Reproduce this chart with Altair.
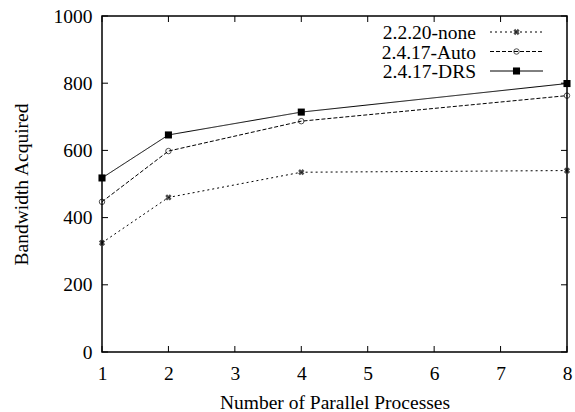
import altair as alt
import pandas as pd

processes = [1, 2, 4, 8]
series_names = ["2.2.20-none", "2.4.17-Auto", "2.4.17-DRS"]
bw_none = [325, 460, 535, 540]
bw_auto = [447, 598, 687, 763]
bw_drs = [518, 646, 714, 799]
x_ticks = [1, 2, 3, 4, 5, 6, 7, 8]
y_ticks = [0, 200, 400, 600, 800, 1000]

rows = []
for name, vals in zip(series_names, [bw_none, bw_auto, bw_drs]):
    for p, v in zip(processes, vals):
        rows.append({"series": name, "p": p, "bw": v})
df = pd.DataFrame(rows)

W, H = 465, 336
FONT = "Liberation Serif"
FS = 19.5
TFS = 19.5

dashes = {"2.2.20-none": [2, 3], "2.4.17-Auto": [4, 2], "2.4.17-DRS": [1, 0]}

xs = alt.Scale(domain=[1, 8], nice=False, zero=False)
ys = alt.Scale(domain=[0, 1000], nice=False)

xaxis = alt.Axis(values=x_ticks, format="d", ticks=False, domain=False, grid=False, labelFont=FONT,
                 labelFontSize=FS, labelColor="black", labelPadding=12, labelFlush=False,
                 title="Number of Parallel Processes",
                 titleFont=FONT, titleFontSize=TFS, titleFontWeight="normal", titleColor="black", titlePadding=11)
yaxis = alt.Axis(values=y_ticks, format="d", ticks=False, domain=False, grid=False, labelFont=FONT,
                 labelFontSize=FS, labelColor="black", labelPadding=10, labelFlush=False,
                 title="Bandwidth Acquired",
                 titleFont=FONT, titleFontSize=TFS, titleFontWeight="normal", titleColor="black", titlePadding=22)


def marker(base, name):
    if name == "2.2.20-none":
        return base.mark_point(shape="cross", color="black", filled=True, size=40, angle=45, strokeWidth=0)
    elif name == "2.4.17-Auto":
        return base.mark_point(shape="circle", color="black", filled=False, size=30, strokeWidth=1)
    return base.mark_point(shape="square", color="black", filled=True, size=50, opacity=1)


layers = []
for name in series_names:
    sub = df[df.series == name]
    base = alt.Chart(sub)
    line = base.mark_line(color="black", strokeWidth=1, strokeDash=dashes[name]).encode(
        x=alt.X("p:Q", scale=xs, axis=xaxis), y=alt.Y("bw:Q", scale=ys, axis=yaxis))
    pts = marker(base, name).encode(x="p:Q", y="bw:Q")
    layers += [line, pts]

# inward ticks
xt = pd.DataFrame({"t": x_ticks})
yt = pd.DataFrame({"t": y_ticks})
tick_layers = [
    alt.Chart(xt).mark_rule(color="black", strokeWidth=1).encode(x=alt.X("t:Q", scale=xs), y=alt.value(H), y2=alt.value(H - 6)),
    alt.Chart(xt).mark_rule(color="black", strokeWidth=1).encode(x=alt.X("t:Q", scale=xs), y=alt.value(0), y2=alt.value(6)),
    alt.Chart(yt).mark_rule(color="black", strokeWidth=1).encode(y=alt.Y("t:Q", scale=ys), x=alt.value(0), x2=alt.value(6)),
    alt.Chart(yt).mark_rule(color="black", strokeWidth=1).encode(y=alt.Y("t:Q", scale=ys), x=alt.value(W), x2=alt.value(W - 6)),
]

# legend
leg = pd.DataFrame({"series": series_names, "i": [0, 1, 2]})
leg_layers = []
for i, name in enumerate(series_names):
    ld = leg[leg.series == name]
    ly = 16 + 19.5 * i
    leg_layers.append(alt.Chart(ld).mark_text(font=FONT, fontSize=19.5, align="right", baseline="middle", color="black", dy=1).encode(
        text="series:N", x=alt.value(374), y=alt.value(ly)))
    leg_layers.append(alt.Chart(ld).mark_rule(color="black", strokeWidth=1, strokeDash=dashes[name]).encode(
        x=alt.value(388), x2=alt.value(441), y=alt.value(ly)))
    leg_layers.append(marker(alt.Chart(ld), name).encode(x=alt.value(414.5), y=alt.value(ly)))

chart = alt.layer(*layers, *tick_layers, *leg_layers).properties(
    width=W, height=H, autosize=alt.AutoSizeParams(type="none"),
    padding={"left": 102, "top": 16, "right": 8, "bottom": 60}, background="white"
).configure_view(stroke="black", strokeWidth=1.5)

chart.save("out.html", embed_options={"renderer": "svg", "actions": False})
